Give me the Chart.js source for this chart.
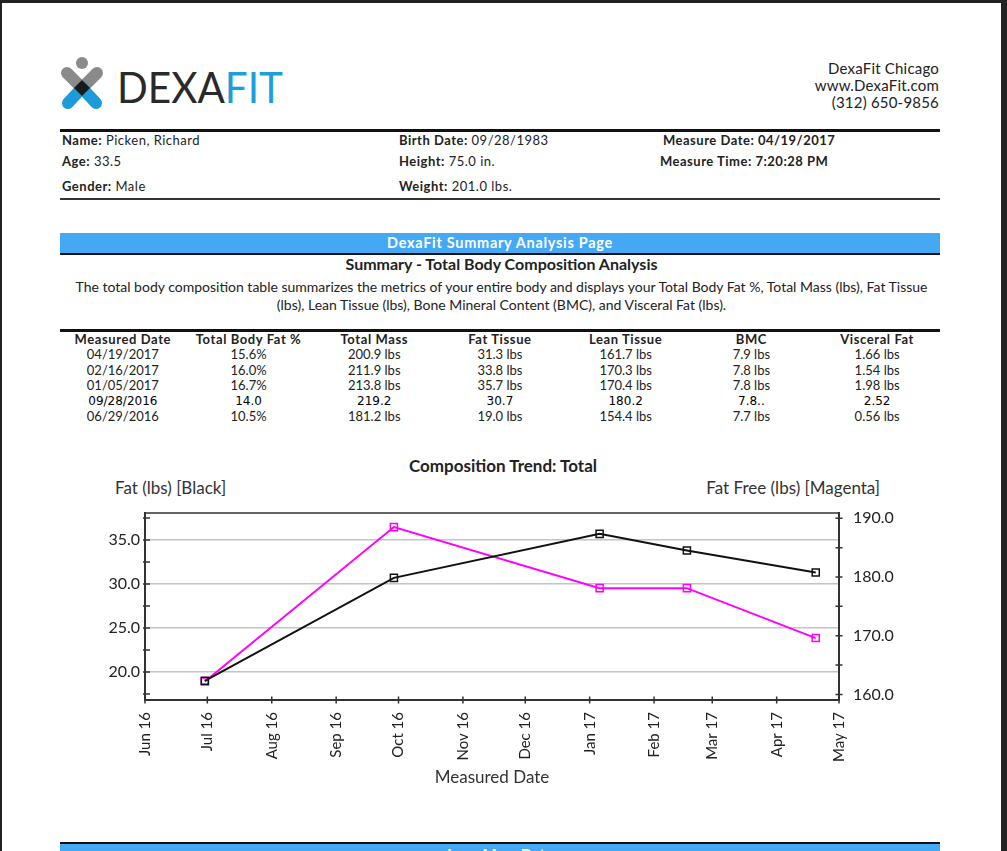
<!DOCTYPE html>
<html><head><meta charset="utf-8">
<script src="https://cdn.jsdelivr.net/npm/chart.js@4.4.0/dist/chart.umd.min.js"></script>
<style>
html,body{margin:0;padding:0;}
body{background:#222;width:1007px;height:851px;overflow:hidden;position:relative;font-family:Lato,'Open Sans',sans-serif;color:#222;}
#page{position:absolute;left:2px;top:3px;width:999px;height:870px;background:#fff;}
.t{position:absolute;white-space:nowrap;}
.b{font-weight:bold;}
.info{font-size:13px;line-height:16px;letter-spacing:0.5px;}
.hdr{font-size:15px;line-height:17px;text-align:right;right:68px;color:#222;letter-spacing:0.2px;}
.rule{position:absolute;left:60px;width:880px;}
table{position:absolute;left:60px;top:331px;width:880px;border-collapse:collapse;table-layout:fixed;font-size:13px;}
td,th{padding:0;text-align:center;white-space:nowrap;}
th{line-height:16px;font-weight:bold;letter-spacing:0.6px;}
td{line-height:15.5px;}
tr.odd td{font-family:'DejaVu Sans',sans-serif;font-size:12px;color:#000;}
#chartbox{position:absolute;left:60px;top:500px;width:880px;height:300px;}
</style></head>
<body>
<div id="page"></div>
<svg class="t" style="left:0;top:0" width="320" height="125" viewBox="0 0 320 125">
  <circle cx="82" cy="63" r="6" fill="#8a8a8a"/>
  <line x1="67" y1="73" x2="82" y2="88" stroke="#8a8a8a" stroke-width="12" stroke-linecap="round"/>
  <line x1="97" y1="73" x2="82" y2="88" stroke="#8a8a8a" stroke-width="12" stroke-linecap="round"/>
  <line x1="82" y1="88" x2="68" y2="103" stroke="#1d9ad8" stroke-width="12" stroke-linecap="round"/>
  <line x1="82" y1="88" x2="96" y2="103" stroke="#1d9ad8" stroke-width="12" stroke-linecap="round"/>
  <polygon points="82,80 90,88 82,96 74,88" fill="#1a1a1a"/>
  <text x="117" y="103" font-family="Lato" font-size="42" fill="#2a2a2a" textLength="166" lengthAdjust="spacingAndGlyphs">DEXA<tspan fill="#1e9fdc">FIT</tspan></text>
</svg>
<div class="t hdr" style="top:60px">DexaFit Chicago</div>
<div class="t hdr" style="top:77px">www.DexaFit.com</div>
<div class="t hdr" style="top:94px">(312) 650-9856</div>
<div class="rule" style="top:129px;height:3px;background:#111"></div>
<div class="t info" style="left:62px;top:132px"><span class="b">Name:</span> Picken, Richard</div>
<div class="t info" style="left:62px;top:153px"><span class="b">Age:</span> 33.5</div>
<div class="t info" style="left:62px;top:178px"><span class="b">Gender:</span> Male</div>
<div class="t info" style="left:399px;top:132px"><span class="b">Birth Date:</span> 09/28/1983</div>
<div class="t info" style="left:399px;top:153px"><span class="b">Height:</span> 75.0 in.</div>
<div class="t info" style="left:399px;top:178px"><span class="b">Weight:</span> 201.0 lbs.</div>
<div class="t info b" style="left:663px;top:132px">Measure Date: 04/19/2017</div>
<div class="t info b" style="left:660px;top:153px">Measure Time: 7:20:28 PM</div>
<div class="rule" style="top:198px;height:2px;background:#333"></div>
<div class="rule" style="top:233px;height:20px;background:#45a8f5;border-bottom:2px solid #111;color:#fff;font-weight:bold;font-size:14.5px;letter-spacing:0.7px;line-height:20px;text-align:center">DexaFit Summary Analysis Page</div>
<div class="t b" style="left:0;width:1003px;text-align:center;top:255px;font-size:16px;line-height:18px">Summary - Total Body Composition Analysis</div>
<div class="t" style="left:0;width:1003px;text-align:center;top:278px;font-size:14px;line-height:18px">The total body composition table summarizes the metrics of your entire body and displays your Total Body Fat %, Total Mass (lbs), Fat Tissue<br>(lbs), Lean Tissue (lbs), Bone Mineral Content (BMC), and Visceral Fat (lbs).</div>
<div class="rule" style="top:329px;height:3px;background:#111"></div>
<table>
<tr><th>Measured Date</th><th>Total Body Fat %</th><th>Total Mass</th><th>Fat Tissue</th><th>Lean Tissue</th><th>BMC</th><th>Visceral Fat</th></tr>
<tr><td>04/19/2017</td><td>15.6%</td><td>200.9 lbs</td><td>31.3 lbs</td><td>161.7 lbs</td><td>7.9 lbs</td><td>1.66 lbs</td></tr>
<tr><td>02/16/2017</td><td>16.0%</td><td>211.9 lbs</td><td>33.8 lbs</td><td>170.3 lbs</td><td>7.8 lbs</td><td>1.54 lbs</td></tr>
<tr><td>01/05/2017</td><td>16.7%</td><td>213.8 lbs</td><td>35.7 lbs</td><td>170.4 lbs</td><td>7.8 lbs</td><td>1.98 lbs</td></tr>
<tr class="odd"><td>09/28/2016</td><td>14.0</td><td>219.2</td><td>30.7</td><td>180.2</td><td>7.8..</td><td>2.52</td></tr>
<tr><td>06/29/2016</td><td>10.5%</td><td>181.2 lbs</td><td>19.0 lbs</td><td>154.4 lbs</td><td>7.7 lbs</td><td>0.56 lbs</td></tr>
</table>
<div class="t b" style="left:0;width:1006px;text-align:center;top:456px;font-size:17px;line-height:20px">Composition Trend: Total</div>
<div class="t" style="left:115px;top:478px;font-size:17px;line-height:20px;color:#333">Fat (lbs) [Black]</div>
<div class="t" style="right:127px;top:478px;font-size:17px;line-height:20px;color:#333">Fat Free (lbs) [Magenta]</div>
<div id="chartbox"><canvas id="c"></canvas></div>
<div class="rule" style="top:842px;height:2px;background:#111"></div>
<div class="rule" style="top:844px;height:20px;background:#45a8f5;color:#fff;font-weight:bold;font-size:15px;line-height:20px;text-align:center">Lean Mass Data</div>
<script>
// ---- data ----
const measuredDates = ['2016-06-29T19:00', '2016-09-28T19:00', '2017-01-05T19:00', '2017-02-16T19:00', '2017-04-19T19:20'];
const fatLbs = [19.0, 30.7, 35.7, 33.8, 31.3];
const fatFreeLbs = [162.2, 188.5, 178.1, 178.1, 169.6];
const monthTickDates = ['2016-06-01', '2016-07-01', '2016-08-01', '2016-09-01', '2016-10-01', '2016-11-01', '2016-12-01', '2017-01-01', '2017-02-01', '2017-03-01', '2017-04-01', '2017-05-01'];
const monthTickLabels = ['Jun 16', 'Jul 16', 'Aug 16', 'Sep 16', 'Oct 16', 'Nov 16', 'Dec 16', 'Jan 17', 'Feb 17', 'Mar 17', 'Apr 17', 'May 17'];
const fatTicks = [17.5, 20, 22.5, 25, 27.5, 30, 32.5, 35, 37.5];
const fatFreeTicks = [160, 165, 170, 175, 180, 185, 190];
const fatRange = [16.82, 38.07];
const fatFreeRange = [159.05, 190.9];

const day = s => Date.parse(s.length === 10 ? s + 'T00:00' : s) / 86400000;
const xs = measuredDates.map(day);

const crossTicks = {
  id: 'crossTicks',
  afterDraw(chart) {
    const {ctx, chartArea: a, scales} = chart;
    ctx.save();
    ctx.strokeStyle = '#333';
    ctx.lineWidth = 1.5;
    ctx.beginPath();
    ctx.moveTo(a.left - 1, a.top);
    ctx.lineTo(a.right + 1, a.top);
    scales.x.ticks.forEach(t => {
      const p = scales.x.getPixelForValue(t.value);
      ctx.moveTo(p, a.bottom - 3.5); ctx.lineTo(p, a.bottom + 3.5);
    });
    scales.yL.ticks.forEach(t => {
      const p = scales.yL.getPixelForValue(t.value);
      ctx.moveTo(a.left - 2, p); ctx.lineTo(a.left + 5, p);
    });
    scales.yR.ticks.forEach(t => {
      const p = scales.yR.getPixelForValue(t.value);
      ctx.moveTo(a.right - 3.5, p); ctx.lineTo(a.right + 3.5, p);
    });
    ctx.stroke();
    ctx.restore();
  }
};

Chart.defaults.font.family = 'Lato, "Open Sans", sans-serif';

const fixV = w => s => { s.width = w; s.paddingTop = 0; s.paddingBottom = 0; };

new Chart(document.getElementById('c'), {
  type: 'line',
  data: {
    datasets: [
      {
        label: 'Fat (lbs)',
        data: xs.map((x, i) => ({x, y: fatLbs[i]})),
        yAxisID: 'yL',
        borderColor: '#111',
        borderWidth: 2,
        pointStyle: 'rect',
        pointRadius: 5,
        pointBorderWidth: 1.5,
        pointBorderColor: '#111',
        pointBackgroundColor: 'rgba(255,255,255,0)',
        tension: 0
      },
      {
        label: 'Fat Free (lbs)',
        data: xs.map((x, i) => ({x, y: fatFreeLbs[i]})),
        yAxisID: 'yR',
        borderColor: '#ff00ff',
        borderWidth: 2,
        pointStyle: 'rect',
        pointRadius: 5,
        pointBorderWidth: 1.5,
        pointBorderColor: '#ff00ff',
        pointBackgroundColor: 'rgba(255,255,255,0)',
        tension: 0
      }
    ]
  },
  options: {
    responsive: true,
    maintainAspectRatio: false,
    animation: false,
    layout: {padding: {top: 13, left: 0, right: 0, bottom: 0}},
    plugins: {legend: {display: false}, tooltip: {enabled: false}},
    scales: {
      x: {
        type: 'linear',
        min: day(monthTickDates[0]),
        max: day(monthTickDates[monthTickDates.length - 1]),
        afterBuildTicks: s => { s.ticks = monthTickDates.map(d => ({value: day(d)})); },
        afterFit: s => { s.height = 100; },
        ticks: {
          autoSkip: false, maxRotation: 90, minRotation: 90, padding: 12,
          color: '#222', font: {size: 15},
          callback: (v, i) => monthTickLabels[i]
        },
        grid: {display: false, drawTicks: false},
        border: {color: '#333', width: 2},
        title: {display: true, text: 'Measured Date', color: '#333', font: {size: 17}, padding: {top: 0, bottom: 12}}
      },
      yL: {
        type: 'linear',
        position: 'left',
        min: fatRange[0],
        max: fatRange[1],
        afterBuildTicks: s => { s.ticks = fatTicks.map(v => ({value: v})); },
        afterFit: fixV(85),
        ticks: {
          autoSkip: false, padding: 5, color: '#222', font: {size: 16},
          callback: v => (v % 5 === 0 ? v.toFixed(1) : '')
        },
        grid: {
          drawTicks: false,
          lineWidth: 1.5,
          color: c => (c.tick && c.tick.value % 5 === 0) ? '#c4c4c4' : 'rgba(0,0,0,0)'
        },
        border: {color: '#333', width: 2}
      },
      yR: {
        type: 'linear',
        position: 'right',
        min: fatFreeRange[0],
        max: fatFreeRange[1],
        afterBuildTicks: s => { s.ticks = fatFreeTicks.map(v => ({value: v})); },
        afterFit: fixV(101),
        ticks: {
          autoSkip: false, padding: 14, color: '#222', font: {size: 16},
          callback: v => (v % 10 === 0 ? v.toFixed(1) : '')
        },
        grid: {drawOnChartArea: false, drawTicks: false},
        border: {color: '#333', width: 2}
      }
    }
  },
  plugins: [crossTicks]
});
</script>
</body></html>
